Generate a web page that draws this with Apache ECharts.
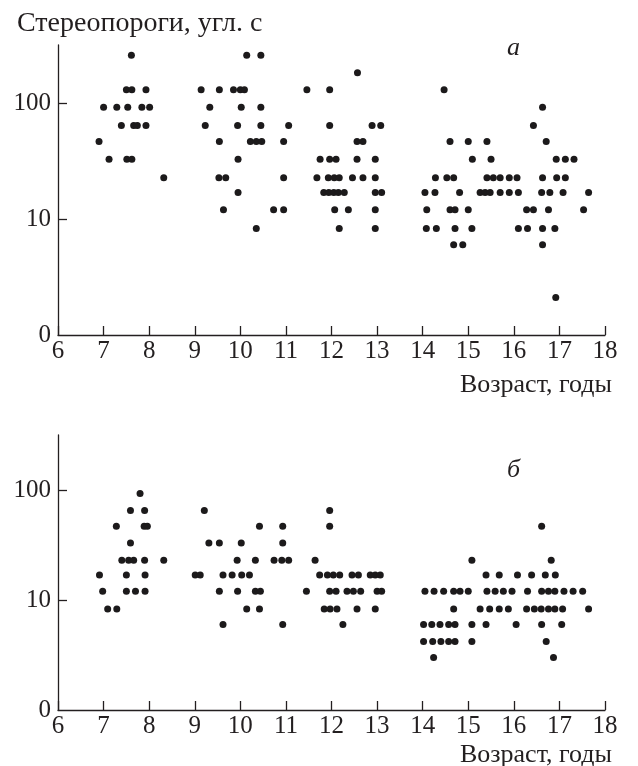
<!DOCTYPE html>
<html>
<head>
<meta charset="utf-8">
<script src="https://cdn.jsdelivr.net/npm/echarts@6/dist/echarts.min.js"></script>
<style>
    html, body { margin: 0; padding: 0; background: #fff; }
    #chart { width: 638px; height: 766px; }
</style>
</head>
<body>
<div id="chart"></div>
<script>
// уровни порогов (угл. с) и возрасты точек на каждом уровне, панель а
var levelsA = [258, 182, 130, 92, 64, 46.5, 32.8, 22.7, 16.9, 12, 8.3, 6, 2.1];
var agesA = [
    [7.61, 10.14, 10.45],
    [12.57],
    [7.5, 7.62, 7.93, 9.14, 9.54, 9.85, 10.0, 10.09, 11.46, 11.96, 14.47],
    [7.0, 7.29, 7.53, 7.84, 8.01, 9.33, 10.02, 10.45, 16.63],
    [7.39, 7.66, 7.74, 7.93, 9.23, 9.94, 10.45, 11.06, 11.96, 12.89, 13.08, 16.43],
    [6.9, 9.54, 10.22, 10.35, 10.47, 10.95, 12.56, 12.69, 14.6, 15.0, 15.41, 16.71],
    [7.12, 7.51, 7.62, 9.95, 11.75, 11.96, 12.1, 12.56, 12.96, 15.09, 15.5, 16.93, 17.13, 17.32],
    [8.32, 9.53, 9.68, 10.95, 11.68, 11.93, 12.06, 12.17, 12.46, 12.69, 12.96, 14.28, 14.53, 14.68, 15.41, 15.55, 15.7, 15.9, 16.07, 16.63, 16.94, 17.13],
    [9.95, 11.83, 11.94, 12.05, 12.15, 12.28, 12.96, 13.1, 14.05, 14.27, 14.81, 15.26, 15.37, 15.48, 15.7, 15.9, 16.1, 16.61, 16.79, 17.08, 17.64],
    [9.63, 10.73, 10.95, 12.07, 12.37, 12.96, 14.09, 14.6, 14.71, 15.0, 16.28, 16.43, 16.76, 17.53],
    [10.35, 12.17, 12.96, 14.08, 14.3, 14.71, 15.08, 16.1, 16.3, 16.63, 16.9],
    [14.68, 14.88, 16.63],
    [16.92]
];
// панель б
var levelsB = [93, 65, 46.7, 33, 23, 16.9, 12, 8.3, 6, 4.2, 3];
var agesB = [
    [7.8],
    [7.59, 7.9, 9.21, 11.96],
    [7.28, 7.89, 7.96, 10.42, 10.93, 11.96, 16.61],
    [7.59, 9.31, 9.54, 10.02, 10.93],
    [7.4, 7.55, 7.66, 7.9, 8.32, 9.93, 10.33, 10.74, 10.91, 11.06, 11.64, 15.08, 16.82],
    [6.91, 7.5, 7.91, 9.01, 9.12, 9.62, 9.82, 10.03, 10.2, 11.74, 11.91, 12.04, 12.18, 12.45, 12.59, 12.85, 12.96, 13.07, 15.39, 15.68, 16.08, 16.39, 16.69, 16.91],
    [6.98, 7.5, 7.7, 7.91, 9.54, 9.94, 10.33, 10.44, 11.45, 11.96, 12.1, 12.34, 12.48, 12.64, 13.0, 13.1, 14.05, 14.25, 14.46, 14.68, 14.82, 15.0, 15.41, 15.59, 15.77, 15.96, 16.3, 16.61, 16.76, 16.9, 17.1, 17.3, 17.51],
    [7.09, 7.29, 10.14, 10.42, 11.84, 11.97, 12.12, 12.56, 12.96, 14.68, 15.26, 15.47, 15.68, 15.88, 16.28, 16.45, 16.6, 16.76, 16.9, 17.07, 17.64],
    [9.62, 10.93, 12.25, 14.02, 14.2, 14.38, 14.57, 14.71, 15.08, 15.39, 16.05, 16.61, 17.05],
    [14.02, 14.22, 14.4, 14.57, 14.71, 15.08, 16.71],
    [14.24, 16.87]
];
var yLabelValues = [1, 10, 100];
var yTickValues = [10, 100];

var FONT = '"Liberation Serif", "DejaVu Serif", serif';
var INK = '#231f20';

function toPoints(levels, ages) {
    var pts = [];
    for (var i = 0; i < levels.length; i++) {
        for (var j = 0; j < ages[i].length; j++) {
            pts.push([ages[i][j], levels[i]]);
        }
    }
    return pts;
}

function makeX(idx) {
    return {
        type: 'value', gridIndex: idx, min: 6, max: 18, interval: 1,
        axisLine: { lineStyle: { color: INK, width: 1.3 } },
        axisTick: { inside: true, length: 9, lineStyle: { color: INK, width: 1.3 } },
        axisLabel: { color: INK, fontFamily: FONT, fontSize: 25, margin: 4 },
        splitLine: { show: false }
    };
}
function makeY(idx) {
    return {
        type: 'log', logBase: 10, gridIndex: idx, min: 1, max: 316.2,
        axisLine: { show: true, onZero: false, lineStyle: { color: INK, width: 1.3 } },
        axisTick: { show: true, inside: true, length: 9, customValues: yTickValues, lineStyle: { color: INK, width: 1.3 } },
        axisLabel: {
            color: INK, fontFamily: FONT, fontSize: 25, margin: 7,
            customValues: yLabelValues,
            formatter: function (v) {
                var r = Math.round(v);
                if (r === 1) return '0';
                if (r === 10 || r === 100) return String(r);
                return '';
            }
        },
        splitLine: { show: false }
    };
}
function makeSeries(idx, pts) {
    return {
        type: 'scatter', xAxisIndex: idx, yAxisIndex: idx,
        symbol: 'circle', symbolSize: 7,
        itemStyle: { color: '#1c1a1b', opacity: 1 },
        data: pts
    };
}

var chart = echarts.init(document.getElementById('chart'));
var option = {
    backgroundColor: '#fff',
    animation: false,
    title: [
        { text: 'Стереопороги, угл. с', left: 12, top: 5, textStyle: { fontFamily: FONT, fontSize: 28, fontWeight: 'normal', color: INK } },
        { text: 'а', left: 502, top: 30, textStyle: { fontFamily: FONT, fontSize: 26, fontStyle: 'italic', fontWeight: 'normal', color: INK } },
        { text: 'Возраст, годы', right: 21, top: 367, textStyle: { fontFamily: FONT, fontSize: 26, fontWeight: 'normal', color: INK } },
        { text: 'б', left: 502, top: 452, textStyle: { fontFamily: FONT, fontSize: 26, fontStyle: 'italic', fontWeight: 'normal', color: INK } },
        { text: 'Возраст, годы', right: 21, top: 737, textStyle: { fontFamily: FONT, fontSize: 26, fontWeight: 'normal', color: INK } }
    ],
    grid: [
        { left: 58, right: 33, top: 45, height: 290 },
        { left: 58, right: 33, top: 435, height: 275 }
    ],
    xAxis: [makeX(0), makeX(1)],
    yAxis: [makeY(0), makeY(1)],
    series: [makeSeries(0, toPoints(levelsA, agesA)), makeSeries(1, toPoints(levelsB, agesB))]
};
chart.setOption(option);
</script>
</body>
</html>
